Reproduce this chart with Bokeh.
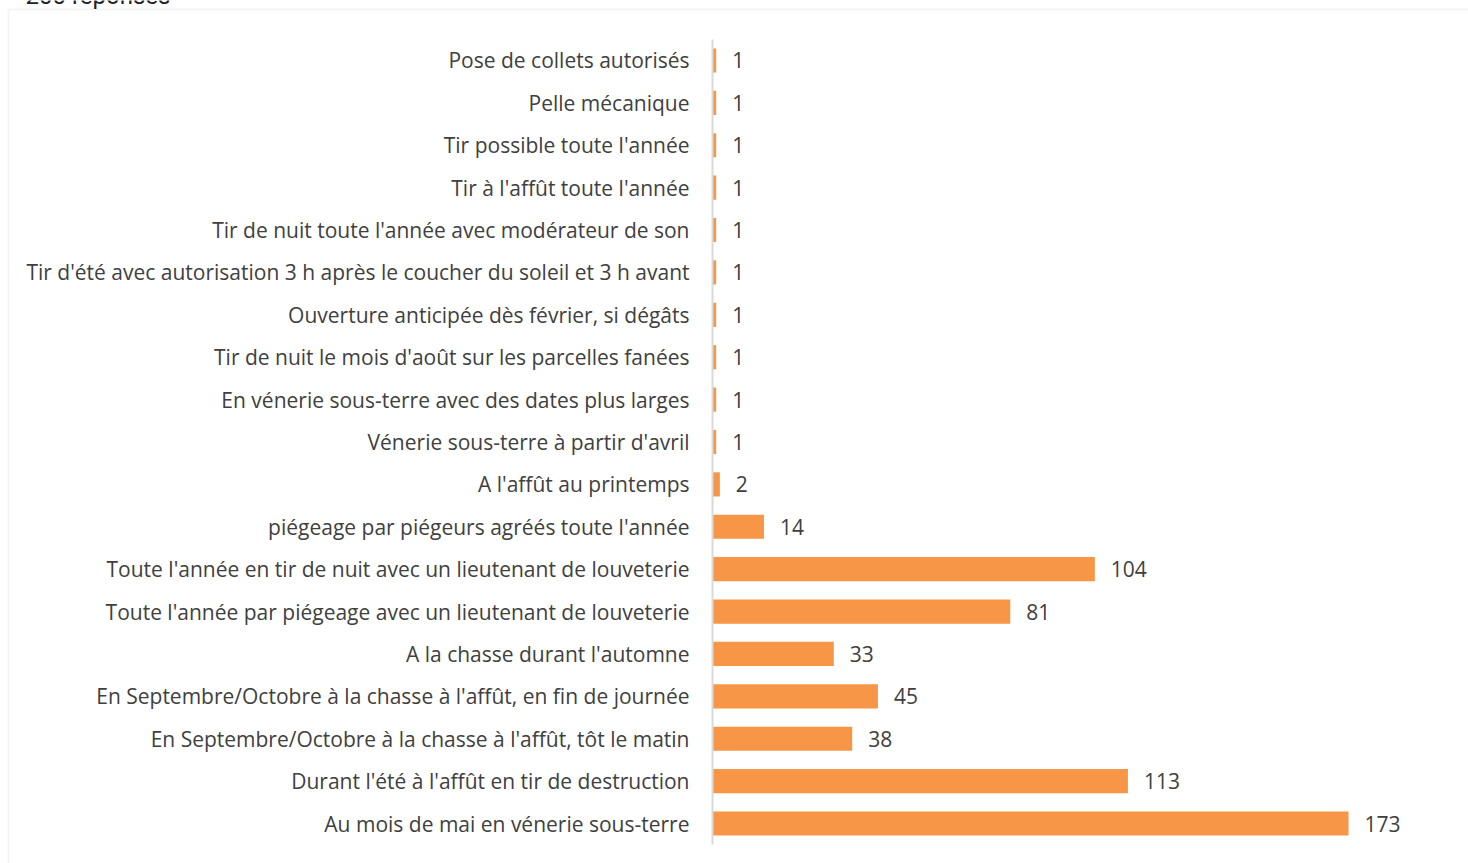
from bokeh.plotting import figure
from bokeh.models import (ColumnDataSource, LabelSet, Label, BoxAnnotation, Range1d,
                          LinearAxis, FixedTicker)
from bokeh.core.properties import value
from bokeh.embed import file_html
from bokeh.resources import INLINE

categories = [
    "Au mois de mai en vénerie sous-terre",
    "Durant l'été à l'affût en tir de destruction",
    "En Septembre/Octobre à la chasse à l'affût, tôt le matin",
    "En Septembre/Octobre à la chasse à l'affût, en fin de journée",
    "A la chasse durant l'automne",
    "Toute l'année par piégeage avec un lieutenant de louveterie",
    "Toute l'année en tir de nuit avec un lieutenant de louveterie",
    "piégeage par piégeurs agréés toute l'année",
    "A l'affût au printemps",
    "Vénerie sous-terre à partir d'avril",
    "En vénerie sous-terre avec des dates plus larges",
    "Tir de nuit le mois d'août sur les parcelles fanées",
    "Ouverture anticipée dès février, si dégâts",
    "Tir d'été avec autorisation 3 h après le coucher du soleil et 3 h avant",
    "Tir de nuit toute l'année avec modérateur de son",
    "Tir à l'affût toute l'année",
    "Tir possible toute l'année",
    "Pelle mécanique",
    "Pose de collets autorisés",
]
values = [173, 113, 38, 45, 33, 81, 104, 14, 2, 1, 1, 1, 1, 1, 1, 1, 1, 1, 1]
title_text = "200 réponses"

FONT = "Open Sans"
TXT = "#404040"
W, H = 1468, 863

# layout geometry (pixels)
AXIS_PX = 712.0          # x pixel of the value axis origin
PX_PER_UNIT = 636.0 / 173.0
ROW_PX = 42.39
BOTTOM_ROW_PX = 823.0

positions = list(range(len(categories)))
src = ColumnDataSource(dict(pos=positions, val=values, lab=[str(v) for v in values]))

x0 = -AXIS_PX / PX_PER_UNIT
x1 = (W - AXIS_PX) / PX_PER_UNIT
y0 = -(H - BOTTOM_ROW_PX) / ROW_PX
y1 = BOTTOM_ROW_PX / ROW_PX

p = figure(width=W, height=H, x_range=Range1d(x0, x1), y_range=Range1d(y0, y1),
           output_backend="svg", toolbar_location=None,
           x_axis_location=None, y_axis_location=None,
           min_border_left=0, min_border_right=0, min_border_top=0, min_border_bottom=0)
p.xgrid.visible = False
p.ygrid.visible = False
p.outline_line_color = None
p.background_fill_color = "white"

# frame border (left + top lines)
p.add_layout(BoxAnnotation(left=x0 + 8 / PX_PER_UNIT, top=y1 - 9 / ROW_PX, right=x1 + 50, bottom=y0 - 5,
                           fill_color=None, line_color="#d9d9d9", line_width=2, level="underlay"))

p.hbar(y="pos", right="val", left=0, height=0.57, source=src, color="#F79646", line_color=None)

ya = LinearAxis(fixed_location=0, ticker=FixedTicker(ticks=positions),
                major_label_overrides={i: c for i, c in zip(positions, categories)},
                bounds=(-0.5, len(categories) - 0.5))
ya.axis_line_color = "#d9d9d9"
ya.axis_line_width = 2
ya.major_tick_line_color = None
ya.minor_tick_line_color = None
ya.major_tick_out = 0
ya.major_tick_in = 0
ya.major_label_standoff = 23
ya.major_label_text_font = FONT
ya.major_label_text_font_size = "21px"
ya.major_label_text_color = TXT
p.add_layout(ya, "left")

labels = LabelSet(x="val", y="pos", text="lab", source=src, x_offset=16, text_baseline="middle",
                  text_align="left", text_font=value(FONT), text_font_size="21px", text_color=TXT)
p.add_layout(labels)

p.add_layout(Label(x=25, y=H + 5, x_units="screen", y_units="screen", text=title_text,
                   text_font="Roboto", text_font_size="24px", text_color="#202124",
                   text_baseline="alphabetic"))

open("out.html", "w").write(file_html(p, INLINE))
